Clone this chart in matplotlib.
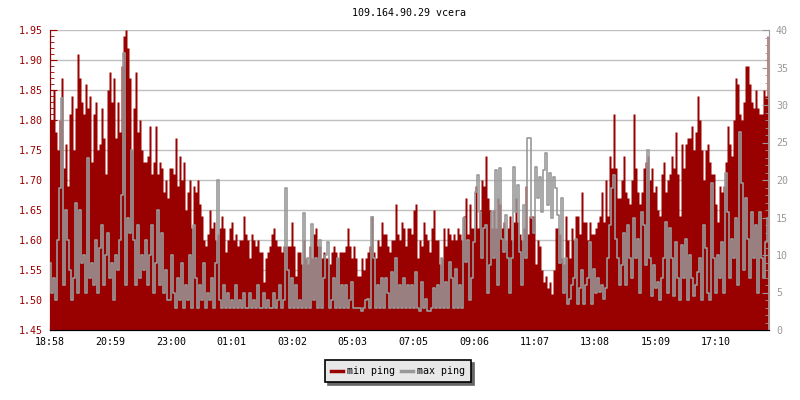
import numpy as np
import matplotlib
matplotlib.use("Agg")
import matplotlib.pyplot as plt
from matplotlib.ticker import MultipleLocator

title = "109.164.90.29 vcera"
tick_labels = ["18:58", "20:59", "23:00", "01:01", "03:02", "05:03",
               "07:05", "09:06", "11:07", "13:08", "15:09", "17:10"]
tick_minutes = [0, 121, 242, 363, 484, 605, 727, 848, 969, 1090, 1211, 1332]
step_minutes = 4

min_ping = [
    1.80,1.80,1.85,1.78,1.75,1.80,1.87,1.72,1.76,1.69,
    1.81,1.84,1.75,1.82,1.91,1.87,1.83,1.81,1.86,1.82,
    1.84,1.73,1.81,1.83,1.75,1.76,1.82,1.77,1.71,1.85,
    1.88,1.83,1.87,1.77,1.83,1.78,1.89,1.94,1.95,1.92,
    1.87,1.75,1.82,1.88,1.78,1.80,1.75,1.73,1.73,1.74,
    1.79,1.71,1.73,1.79,1.71,1.73,1.72,1.68,1.70,1.67,
    1.72,1.72,1.71,1.77,1.69,1.74,1.70,1.73,1.65,1.68,
    1.70,1.62,1.69,1.68,1.70,1.66,1.64,1.60,1.59,1.61,
    1.65,1.62,1.63,1.60,1.61,1.62,1.64,1.62,1.58,1.60,
    1.62,1.63,1.60,1.61,1.59,1.60,1.60,1.64,1.61,1.60,
    1.57,1.61,1.60,1.59,1.60,1.58,1.58,1.53,1.57,1.58,
    1.59,1.61,1.62,1.60,1.59,1.59,1.58,1.59,1.59,1.59,
    1.59,1.63,1.59,1.54,1.58,1.58,1.56,1.60,1.57,1.56,
    1.59,1.57,1.61,1.62,1.59,1.59,1.57,1.58,1.57,1.57,
    1.56,1.58,1.59,1.58,1.57,1.58,1.58,1.58,1.59,1.62,
    1.59,1.57,1.59,1.57,1.54,1.54,1.57,1.55,1.57,1.58,
    1.59,1.64,1.58,1.57,1.60,1.59,1.63,1.61,1.61,1.59,
    1.58,1.60,1.60,1.66,1.61,1.60,1.63,1.62,1.59,1.62,
    1.62,1.61,1.65,1.66,1.57,1.60,1.59,1.63,1.61,1.60,
    1.58,1.62,1.65,1.60,1.60,1.56,1.57,1.62,1.59,1.62,
    1.61,1.60,1.61,1.60,1.62,1.61,1.60,1.64,1.67,1.61,
    1.66,1.62,1.62,1.69,1.62,1.65,1.70,1.69,1.74,1.67,
    1.65,1.62,1.65,1.62,1.67,1.66,1.62,1.63,1.60,1.62,
    1.64,1.60,1.63,1.67,1.63,1.61,1.60,1.62,1.69,1.61,
    1.64,1.64,1.64,1.56,1.60,1.59,1.55,1.53,1.54,1.52,
    1.53,1.51,1.55,1.62,1.62,1.61,1.57,1.56,1.64,1.60,
    1.57,1.62,1.60,1.64,1.64,1.61,1.68,1.63,1.63,1.60,
    1.63,1.61,1.61,1.62,1.63,1.64,1.68,1.63,1.70,1.64,
    1.74,1.72,1.81,1.72,1.67,1.67,1.70,1.74,1.68,1.67,
    1.66,1.70,1.81,1.72,1.68,1.66,1.68,1.72,1.73,1.74,
    1.70,1.72,1.68,1.69,1.65,1.64,1.71,1.73,1.68,1.70,
    1.71,1.74,1.72,1.78,1.71,1.64,1.76,1.72,1.76,1.77,
    1.77,1.79,1.75,1.78,1.84,1.80,1.75,1.70,1.75,1.76,
    1.73,1.71,1.71,1.66,1.63,1.69,1.68,1.69,1.73,1.79,
    1.76,1.74,1.80,1.87,1.86,1.81,1.80,1.83,1.89,1.89,
    1.86,1.83,1.82,1.85,1.82,1.81,1.81,1.85,1.84,1.94,
]

max_ping = [
    9,5,7,4,12,19,31,6,16,12,
    8,4,7,17,5,16,9,10,5,23,
    7,9,6,12,5,11,14,6,10,13,
    7,9,4,10,8,12,18,37,6,15,
    13,24,12,6,14,7,10,8,12,6,
    10,14,5,9,16,6,13,5,8,4,
    4,10,5,3,7,4,9,3,6,4,
    10,3,14,7,3,6,4,9,3,5,
    4,7,3,9,20,4,3,6,3,5,
    3,4,3,6,3,4,3,5,3,3,
    5,3,4,3,6,3,3,5,3,4,
    3,3,5,3,4,6,3,4,19,8,
    3,7,3,6,3,4,3,15.6,3,9.6,
    3,14.2,4,9.6,3,12,3,7,10,11.8,
    3,4,7,3,9.6,3,6,3,6,3,
    4,6.4,3,2.9,2.9,3,2.5,3,4,4.2,
    3,15.1,9.6,3,6,3,6.9,3,6.9,5,
    3,7.8,3,9.6,3,6,3,6.9,3,6,
    3,6,3,7.8,3,2.6,6.4,3,4.2,2.5,
    2.6,3,5.6,3,6,3,9.6,3,6.4,3,
    9.1,6.9,3,8.2,3,6,3,14.9,9.1,12,
    4,6.9,11.8,18.4,20.7,15.8,9.6,13.6,14,5,
    8.7,15.8,9.6,21.3,6,21.6,12.2,10.4,15.3,9.6,
    5,9.6,21.8,15.8,19.3,10.4,6,16.7,9.6,25.6,
    25.6,15,13,21.8,17.6,20.4,15.8,21.3,23.6,16.7,
    20.9,14.9,20.4,19,15.3,9,17.6,5,9.6,3.5,
    4.2,6,7,12.2,3.5,5.6,8,3.5,6,6.9,
    11.8,3.5,8.2,5,6.9,5.1,6,4.2,5.6,9.6,
    14,19,20.7,12.2,9.6,6,8.7,13,6,14,
    9.6,6.9,14.9,9.6,12.2,5,15.8,14,8.7,24,
    9.6,4.5,8.7,5.6,6.4,4,6.9,9.6,14.4,5,
    13.6,9.6,4.5,11.8,6.9,4,11.3,6.9,12.2,4,
    10,6.9,4.5,6,7.8,9.6,4,14,11,5,
    4,19.6,9.6,5,10,6.9,11.8,5,20.9,15.8,
    7,12.2,9.6,14.9,6,26.4,19.6,8,17.6,12.2,
    7,15.8,9.6,14,5,15.8,9.6,7,11.8,14.9,
]

RED = "#990000"
GREY = "#999999"
FONT = "DejaVu Sans Mono"
FS = 7.2
plt.rcParams['font.family'] = FONT

x_min = np.arange(len(min_ping)) * step_minutes
x_max = np.arange(len(max_ping)) * step_minutes

fig = plt.figure(figsize=(8, 4), dpi=100)
ax = fig.add_axes([50/800, 70/400, 719/800, 300/400])
ax2 = ax.twinx()

ax.fill_between(x_min, 1.45, min_ping, step='mid', color=RED, lw=0, zorder=2)
ax2.plot(x_max, max_ping, color=GREY, lw=1.2, drawstyle='steps-mid', zorder=3)

ax.set_xlim(0, 1438)
ax.set_ylim(1.45, 1.95)
ax2.set_ylim(0, 40)

ax.set_axisbelow(True)
ax.yaxis.grid(True, color="#c0c0c0", lw=1)
ax.set_yticks(np.arange(1.45, 1.951, 0.05))
ax.set_yticklabels([f"{v:.2f}" for v in np.arange(1.45, 1.951, 0.05)])
ax.yaxis.set_minor_locator(MultipleLocator(0.01))
ax.set_xticks(tick_minutes)
ax.set_xticklabels(tick_labels)

ax.tick_params(axis='y', which='major', direction='in', length=5, color=RED,
               labelcolor=RED, labelsize=FS, pad=5)
ax.tick_params(axis='y', which='minor', direction='in', length=3, color=RED)
ax.tick_params(axis='x', which='major', direction='in', length=5, color='black',
               labelcolor='black', labelsize=FS, pad=5)

ax2.set_yticks(np.arange(0, 41, 5))
ax2.yaxis.set_minor_locator(MultipleLocator(1))
ax2.tick_params(axis='y', which='major', direction='in', length=5, color=GREY,
                labelcolor=GREY, labelsize=FS, pad=5)
ax2.tick_params(axis='y', which='minor', direction='in', length=3, color=GREY)

for a in (ax, ax2):
    a.spines['top'].set_visible(False)
ax.spines['right'].set_visible(False)
ax2.spines['left'].set_color(RED)
ax2.spines['bottom'].set_color('black')
ax2.spines['right'].set_color(GREY)
ax.spines['left'].set_color(RED)

fig.text(409/800, 1 - 13/400, title, ha='center', va='center', fontsize=FS, color='black')

h1, = ax.plot([], [], color=RED, lw=2.5)
h2, = ax.plot([], [], color=GREY, lw=2.5)
leg = fig.legend([h1, h2], ["min ping", "max ping"], ncol=2,
                 loc='center', bbox_to_anchor=(398/800, 1 - 371/400),
                 fontsize=FS, frameon=True, fancybox=False,
                 shadow={'color': '#666666', 'alpha': 1},
                 handlelength=1.2, handletextpad=0.4, columnspacing=0.6,
                 borderpad=0.6, borderaxespad=0)
leg.get_frame().set_facecolor('#e8e8e8')
leg.get_frame().set_edgecolor('black')
leg.get_frame().set_linewidth(1.2)
leg.get_frame().set_alpha(1)

fig.savefig("out.png", dpi=100)
